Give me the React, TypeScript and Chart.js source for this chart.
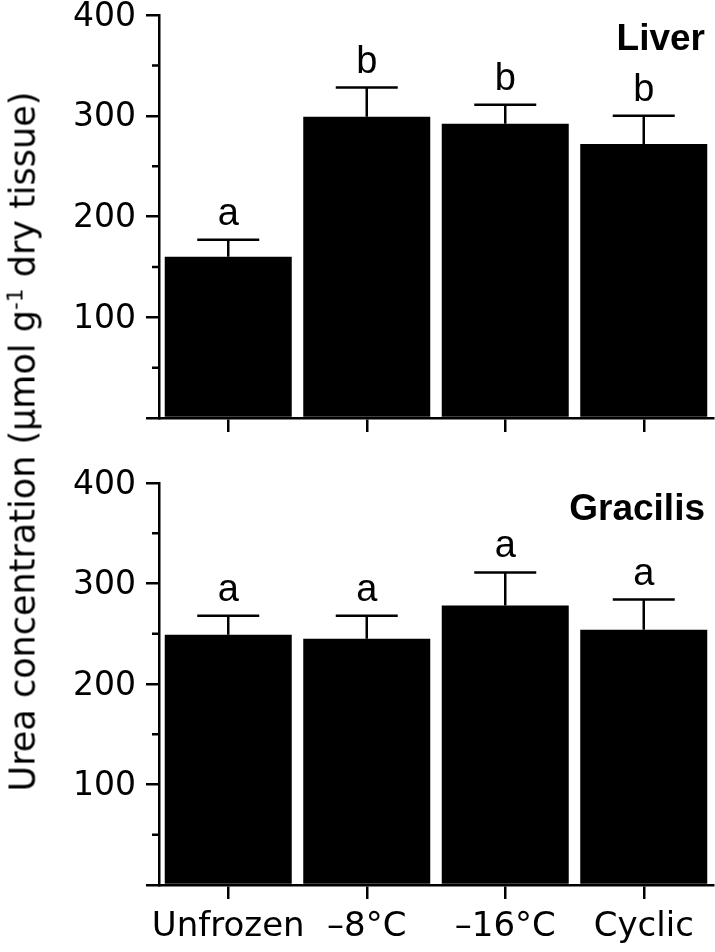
import React, { useEffect, useRef } from 'react';
import { Chart, registerables } from 'chart.js';

Chart.register(...registerables);

const categories = ['Unfrozen', '\u20138\u00b0C', '\u201316\u00b0C', 'Cyclic'];

const liverMean = [160, 299, 292, 272];
const liverSE = [17, 29, 19, 28];
const liverLetters = ['a', 'b', 'b', 'b'];

const gracilisMean = [249, 245, 278, 254];
const gracilisSE = [19, 23, 33, 30];
const gracilisLetters = ['a', 'a', 'a', 'a'];

const yMin = 0;
const yMax = 400;
const yStep = 100;
const minorTicks = [50, 150, 250, 350];

const REG = "'DejaVu Sans', sans-serif";
const ARIAL = "'Liberation Sans', Arial, sans-serif";
const LW = 2.5;

type PanelProps = {
  title: string;
  mean: number[];
  se: number[];
  letters: string[];
  showLabels: boolean;
  top: number;
  height: number;
  xAxisHeight: number;
  titleOffset: number;
};

function Panel(props: PanelProps) {
  const ref = useRef<HTMLCanvasElement | null>(null);
  useEffect(() => {
    const canvas = ref.current;
    if (!canvas) return;
    const { title, mean, se, letters, showLabels, xAxisHeight, titleOffset } = props;
    const annot = {
      id: 'annot',
      afterDatasetsDraw(chart: any) {
        const ctx = chart.ctx;
        const ys = chart.scales.y;
        const area = chart.chartArea;
        const meta = chart.getDatasetMeta(0);
        ctx.save();
        ctx.strokeStyle = '#000';
        ctx.fillStyle = '#000';
        ctx.lineWidth = LW;
        ctx.lineCap = 'butt';
        meta.data.forEach((bar: any, i: number) => {
          const x = bar.x;
          const y0 = ys.getPixelForValue(mean[i]);
          const y1 = ys.getPixelForValue(mean[i] + se[i]);
          ctx.beginPath();
          ctx.moveTo(x, y0);
          ctx.lineTo(x, y1);
          ctx.moveTo(x - 31, y1);
          ctx.lineTo(x + 31, y1);
          ctx.stroke();
          ctx.font = '38px ' + ARIAL;
          ctx.textAlign = 'center';
          ctx.textBaseline = 'alphabetic';
          ctx.fillText(letters[i], x, y1 - 15);
        });
        ctx.beginPath();
        minorTicks.forEach((v) => {
          const py = ys.getPixelForValue(v);
          ctx.moveTo(area.left - 7, py);
          ctx.lineTo(area.left, py);
        });
        ctx.stroke();
        ctx.font = 'bold 37px ' + ARIAL;
        ctx.textAlign = 'right';
        ctx.fillText(title, area.right - 8, area.top + titleOffset);
        ctx.restore();
      },
    };
    const chart = new Chart(canvas, {
      type: 'bar',
      data: {
        labels: categories,
        datasets: [
          {
            data: mean,
            backgroundColor: '#000',
            borderWidth: 0,
            categoryPercentage: 1,
            barPercentage: 0.917,
          },
        ],
      },
      options: {
        responsive: false,
        animation: false,
        devicePixelRatio: 1,
        layout: { padding: { top: 20, right: 2, left: 0, bottom: 0 } },
        plugins: { legend: { display: false }, tooltip: { enabled: false }, title: { display: false } },
        scales: {
          x: {
            offset: true,
            grid: {
              display: true,
              offset: false,
              drawOnChartArea: false,
              drawTicks: true,
              tickLength: 14,
              color: '#000',
              lineWidth: LW,
            },
            border: { display: true, color: '#000', width: LW },
            ticks: {
              display: showLabels,
              color: '#000',
              font: { family: REG, size: 34 },
              padding: 8,
              maxRotation: 0,
              autoSkip: false,
            },
            afterFit: (s: any) => {
              s.height = xAxisHeight;
              s.paddingLeft = 0;
              s.paddingRight = 0;
            },
          },
          y: {
            min: yMin,
            max: yMax,
            grid: {
              display: true,
              drawOnChartArea: false,
              drawTicks: true,
              tickLength: 13,
              color: '#000',
              lineWidth: LW,
            },
            border: { display: true, color: '#000', width: LW },
            ticks: {
              stepSize: yStep,
              color: '#000',
              font: { family: REG, size: 33 },
              padding: 10,
              labelOffset: 2,
              callback: (v: any) => (v === 0 ? '' : String(v)),
            },
            afterFit: (s: any) => {
              s.width = 159;
              s.paddingTop = 0;
              s.paddingBottom = 0;
            },
          },
        },
      },
      plugins: [annot],
    });
    return () => chart.destroy();
  }, []);
  return (
    <canvas
      ref={ref}
      width={715}
      height={props.height}
      style={{ position: 'absolute', left: 0, top: props.top, width: 715, height: props.height, display: 'block' }}
    />
  );
}

export default function App() {
  return (
    <div
      style={{
        position: 'absolute',
        left: 0,
        top: 0,
        width: 715,
        height: 952,
        overflow: 'hidden',
        background: '#fff',
      }}
    >
      <Panel
        title="Liver"
        mean={liverMean}
        se={liverSE}
        letters={liverLetters}
        showLabels={false}
        top={-5}
        height={438}
        xAxisHeight={15}
        titleOffset={35}
      />
      <Panel
        title="Gracilis"
        mean={gracilisMean}
        se={gracilisSE}
        letters={gracilisLetters}
        showLabels={true}
        top={463}
        height={482}
        xAxisHeight={60}
        titleOffset={37}
      />
      <div
        style={{
          position: 'absolute',
          left: 23 - 450,
          top: 441 - 17,
          width: 900,
          height: 35,
          lineHeight: '35px',
          fontSize: 35,
          fontFamily: "'DejaVu Sans', sans-serif",
          color: '#000',
          textAlign: 'center',
          whiteSpace: 'nowrap',
          transform: 'rotate(-90deg)',
        }}
      >
        Urea concentration (µmol g
        <span style={{ position: 'relative', top: '-0.55em', fontSize: '0.62em' }}>-1</span> dry tissue)
      </div>
    </div>
  );
}
